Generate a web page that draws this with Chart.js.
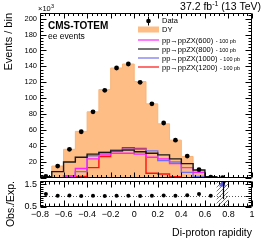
<!DOCTYPE html>
<html><head><meta charset="utf-8">
<script src="https://cdn.jsdelivr.net/npm/chart.js@4/dist/chart.umd.min.js"></script>
<style>
html,body{margin:0;padding:0;background:#fff;}
#wrap{position:relative;width:266px;height:240px;overflow:hidden;}
canvas{position:absolute;left:0;top:0;}
</style></head><body>
<div id="wrap"><canvas id="main" width="266" height="240"></canvas><canvas id="ratio" width="266" height="240"></canvas></div>
<script>
// ---------- data ----------
const binEdges   = [-0.8,-0.7,-0.6,-0.5,-0.4,-0.3,-0.2,-0.1,0,0.1,0.2,0.3,0.4,0.5,0.6,0.7,0.8];
const binCenters = [-0.75,-0.65,-0.55,-0.45,-0.35,-0.25,-0.15,-0.05,0.05,0.15,0.25,0.35,0.45,0.55,0.65,0.75];
const dataEvents = [2,15,36,58,83,110,138,143,120,93,69,47.5,27.5,10.5,1,0.3];
const dyEvents   = [1.9,15,36,58.5,83,111,138,143,121,93,68,47.5,27,9.8,1,0.1];
const sig600     = [0,0.5,2,12,24,29,31,31,30,26,24,18,13,7,1.5,0.3];
const sig800     = [1.5,8,20,26,30,32,34,35,33,31,29,24,18,10,1.5,0.3];
const sig1000    = [0,0,3,8,28,32,34,36,36,34,22,20,7,2,0.5,0];
const sig1200    = [0,0,0.5,2,13,27,35,38,37,6,5,1.5,0.5,0.5,0.3,0];
const ratioValues = [1.07,1.0,1.01,0.99,1.0,0.99,1.0,1.0,0.99,1.0,1.01,1.0,1.02,1.08,1.0,null];
const dyRelUnc    = [0,0,0,0,0,0,0,0,0,0,0,0,0,0,0,10];
const arrowX      = [0.75];
const arrowY      = [1.5];
const arrowErrLow = [0.85];
const xTickValues = [-0.8,-0.6,-0.4,-0.2,0,0.2,0.4,0.6,0.8,1];
const xTickLabels = ['\u22120.8','\u22120.6','\u22120.4','\u22120.2','0','0.2','0.4','0.6','0.8','1'];
const yTickValues = [0,20,40,60,80,100,120,140,160,180,200];
const yTickLabels = ['','20','40','60','80','100','120','140','160','180','200'];
const rTickValues = [0.5,1,1.5];
const rTickLabels = ['0.5','1','1.5'];
const legendLabels = ['Data','DY','pp\u2192ppZX(600)','pp\u2192ppZX(800)','pp\u2192ppZX(1000)','pp\u2192ppZX(1200)'];

// ---------- helpers ----------
const FONT = '"Liberation Sans", Arial, "DejaVu Sans", sans-serif';
const C = {dy:'#fdbd85', s600:'#ff22ff', s800:'#1a1a1a', s1000:'#7070f0', s1200:'#ff1010'};
function histPts(vals){
  const p=[{x:binEdges[0],y:0}];
  vals.forEach((v,i)=>p.push({x:binEdges[i],y:v}));
  p.push({x:binEdges[vals.length],y:vals[vals.length-1]});
  p.push({x:binEdges[vals.length],y:0});
  return p;
}
function bandPts(vals){
  const p=vals.map((v,i)=>({x:binEdges[i],y:v}));
  p.push({x:binEdges[vals.length],y:vals[vals.length-1]});
  return p;
}
function pts(xs,ys){ return xs.map((x,i)=>({x:x,y:ys[i]})).filter(p=>p.y!==null); }
function setTicks(vals){ return s=>{ s.ticks = vals.map(v=>({value:v})); }; }
function lab(vals,labels){ return v=>{ const i=vals.findIndex(t=>Math.abs(t-v)<1e-9); return i<0?'':labels[i]; }; }

function drawFrame(chart,o){
  const {ctx, chartArea:a} = chart;
  const xs=chart.scales.x, ys=chart.scales.y;
  ctx.save();
  ctx.strokeStyle='#000'; ctx.lineWidth=1;
  const L=a.left+0.5, R=a.right-0.5, T=a.top+0.5, B=a.bottom-0.5;
  ctx.beginPath();
  ctx.rect(L,T,R-L,B-T);
  for(let k=0;k<=45;k++){
    const v=-0.8+k*0.04;
    const px=Math.round(xs.getPixelForValue(v))+0.5;
    const len=(k%5===0)?o.xMaj:o.xMin;
    ctx.moveTo(px,B); ctx.lineTo(px,B-len);
    ctx.moveTo(px,T); ctx.lineTo(px,T+len);
  }
  for(let k=0;;k++){
    const v=ys.min+k*o.yMinor;
    if(v>ys.max+1e-9) break;
    const py=Math.round(ys.getPixelForValue(v))+0.5;
    const len=(k%o.ySub===0)?o.yMaj:o.yMin;
    ctx.moveTo(L,py); ctx.lineTo(L+len,py);
    ctx.moveTo(R,py); ctx.lineTo(R-len,py);
  }
  ctx.stroke();
  ctx.restore();
}

// ---------- main panel ----------
const mainDecor = {
  id:'mainDecor',
  afterDatasetsDraw(chart){
    drawFrame(chart,{xMaj:5,xMin:2.5,yMaj:6,yMin:3,yMinor:4,ySub:5});
  },
  afterDraw(chart){
    const ctx=chart.ctx;
    ctx.save();
    ctx.fillStyle='#000';
    ctx.textBaseline='alphabetic';
    ctx.font='7.5px '+FONT; ctx.textAlign='left';
    ctx.fillText('\u00d710',38,11);
    const w10=ctx.measureText('\u00d710').width;
    ctx.font='5.5px '+FONT; ctx.fillText('3',38+w10+0.3,7.5);
    const big='10.5px '+FONT, small='7px '+FONT;
    ctx.font=big; const wa=ctx.measureText('37.2 fb').width, wc=ctx.measureText(' (13 TeV)').width;
    ctx.font=small; const wb=ctx.measureText('-1').width;
    let x0=261-(wa+wb+wc);
    ctx.font=big; ctx.fillText('37.2 fb',x0,10);
    ctx.font=small; ctx.fillText('-1',x0+wa,5.5);
    ctx.font=big; ctx.fillText(' (13 TeV)',x0+wa+wb,10);
    ctx.font='bold 10px '+FONT; ctx.fillText('CMS-TOTEM',48,28.8);
    ctx.font='8.5px '+FONT; ctx.fillText('ee events',48,38.6);
    const rows=[21,29.5,40,49,58,67];
    const sx0=138, sx1=159, tx=162;
    ctx.beginPath(); ctx.strokeStyle='#000'; ctx.lineWidth=1;
    ctx.moveTo(148.5,16.5); ctx.lineTo(148.5,25.5); ctx.stroke();
    ctx.beginPath(); ctx.arc(148.5,rows[0],2.3,0,Math.PI*2); ctx.fill();
    ctx.fillStyle=C.dy; ctx.fillRect(sx0,rows[1]-3,sx1-sx0,6);
    ctx.fillStyle='#000';
    const lc=[C.s600,C.s800,C.s1000,C.s1200];
    for(let i=0;i<4;i++){
      ctx.beginPath(); ctx.strokeStyle=lc[i]; ctx.lineWidth=1.2;
      ctx.moveTo(sx0,rows[i+2]); ctx.lineTo(sx1,rows[i+2]); ctx.stroke();
    }
    ctx.textBaseline='middle';
    ctx.font='7.5px '+FONT;
    ctx.fillText(legendLabels[0],tx,rows[0]);
    ctx.fillText(legendLabels[1],tx,rows[1]);
    for(let i=2;i<6;i++){
      ctx.font='7.5px '+FONT; ctx.textBaseline='alphabetic';
      const by=rows[i]+2.7;
      ctx.fillText(legendLabels[i],tx,by);
      const w=ctx.measureText(legendLabels[i]).width;
      ctx.font='5.5px '+FONT;
      ctx.fillText(' - 100 pb',tx+w+1,by);
    }
    ctx.restore();
  }
};

const lineDs=(label,vals,color,order)=>({type:'line',label:label,data:histPts(vals),stepped:true,
  borderColor:color,borderWidth:1.4,pointRadius:0,fill:false,order:order});

new Chart(document.getElementById('main'),{
  type:'line',
  data:{datasets:[
    {type:'scatter',label:'Data',data:pts(binCenters,dataEvents),pointRadius:2.4,pointBackgroundColor:'#000',pointBorderWidth:0,showLine:false,order:0},
    lineDs('600',sig600,C.s600,2),
    lineDs('800',sig800,C.s800,1),
    lineDs('1000',sig1000,C.s1000,3),
    lineDs('1200',sig1200,C.s1200,4),
    {type:'line',label:'DY',data:histPts(dyEvents),stepped:true,borderColor:'#f8b57a',borderWidth:1,backgroundColor:C.dy,fill:'origin',pointRadius:0,order:10}
  ]},
  options:{
    responsive:false,animation:false,devicePixelRatio:1,
    layout:{padding:{left:0,right:14,top:13,bottom:62}},
    plugins:{legend:{display:false},tooltip:{enabled:false}},
    scales:{
      x:{type:'linear',min:-0.8,max:1,display:false},
      y:{type:'linear',min:0,max:207,
        afterBuildTicks:setTicks(yTickValues),
        afterFit:s=>{s.width=40;},
        grid:{display:false,drawTicks:false},border:{display:false},
        ticks:{callback:lab(yTickValues,yTickLabels),color:'#000',font:{family:FONT,size:7.5},padding:3},
        title:{display:true,text:'Events / bin',align:'end',color:'#000',font:{family:FONT,size:11},padding:{top:2,bottom:0}}
      }
    }
  },
  plugins:[mainDecor]
});

// ---------- ratio panel ----------
function hatchPattern(){
  const c=document.createElement('canvas'); c.width=4; c.height=4;
  const g=c.getContext('2d');
  g.strokeStyle='#7a7a7a'; g.lineWidth=1;
  g.beginPath(); g.moveTo(0,4); g.lineTo(4,0); g.moveTo(-1,1); g.lineTo(1,-1); g.moveTo(3,5); g.lineTo(5,3); g.stroke();
  return g.createPattern(c,'repeat');
}
const ratioDecor = {
  id:'ratioDecor',
  beforeDatasetsDraw(chart){
    const {ctx, chartArea:a} = chart; const ys=chart.scales.y;
    const py=Math.round(ys.getPixelForValue(1))+0.5;
    ctx.save(); ctx.strokeStyle='#555'; ctx.lineWidth=1; ctx.setLineDash([1,2]);
    ctx.beginPath(); ctx.moveTo(a.left,py); ctx.lineTo(a.right,py); ctx.stroke(); ctx.restore();
  },
  afterDatasetsDraw(chart){
    const {ctx, chartArea:a} = chart; const xs=chart.scales.x, ys=chart.scales.y;
    ctx.save(); ctx.strokeStyle='#000'; ctx.lineWidth=1.2;
    arrowX.forEach((x,i)=>{
      const px=Math.round(xs.getPixelForValue(x))+0.5;
      ctx.beginPath(); ctx.moveTo(px,ys.getPixelForValue(arrowErrLow[i])); ctx.lineTo(px,a.top); ctx.stroke();
    });
    ctx.restore();
    drawFrame(chart,{xMaj:6,xMin:3,yMaj:6,yMin:3,yMinor:0.1,ySub:5});
  }
};
new Chart(document.getElementById('ratio'),{
  type:'line',
  data:{datasets:[
    {type:'scatter',label:'ratio',data:pts(binCenters,ratioValues),pointRadius:2,pointBackgroundColor:'#000',pointBorderWidth:0,showLine:false,order:0},
    {type:'scatter',label:'arrow',data:pts(arrowX,arrowY),pointStyle:'triangle',pointRadius:4,pointBackgroundColor:'#5a5ae8',pointBorderWidth:0,showLine:false,order:0},
    {type:'line',label:'uncLow',data:bandPts(dyRelUnc.map(u=>1-u)),stepped:true,borderWidth:0,pointRadius:0,fill:false,order:5},
    {type:'line',label:'uncHigh',data:bandPts(dyRelUnc.map(u=>1+u)),stepped:true,borderWidth:0,pointRadius:0,fill:'-1',backgroundColor:hatchPattern(),order:5}
  ]},
  options:{
    responsive:false,animation:false,devicePixelRatio:1,
    layout:{padding:{left:0,right:14,top:181,bottom:0}},
    plugins:{legend:{display:false},tooltip:{enabled:false}},
    scales:{
      x:{type:'linear',min:-0.8,max:1,
        afterBuildTicks:setTicks(xTickValues),
        afterFit:s=>{s.height=33;},
        grid:{display:false,drawTicks:false},border:{display:false},
        ticks:{callback:lab(xTickValues,xTickLabels),color:'#000',font:{family:FONT,size:9},padding:2,maxRotation:0,autoSkip:false},
        title:{display:true,text:'Di-proton rapidity',align:'end',color:'#000',font:{family:FONT,size:10.5},padding:{top:2.5,bottom:0.5}}
      },
      y:{type:'linear',min:0.5,max:1.65,
        afterBuildTicks:setTicks(rTickValues),
        afterFit:s=>{s.width=40;},
        grid:{display:false,drawTicks:false},border:{display:false},
        ticks:{callback:lab(rTickValues,rTickLabels),color:'#000',font:{family:FONT,size:9},padding:3},
        title:{display:true,text:'Obs./Exp.',align:'end',color:'#000',font:{family:FONT,size:10.5},padding:{top:4.5,bottom:0}}
      }
    }
  },
  plugins:[ratioDecor]
});
</script>
</body></html>
